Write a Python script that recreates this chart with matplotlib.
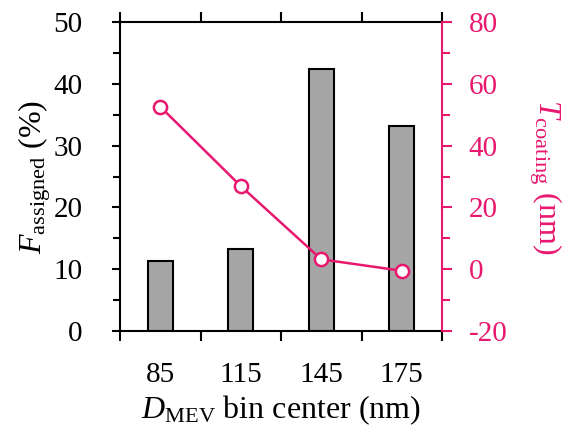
import numpy as np
import matplotlib
matplotlib.use("Agg")
import matplotlib.pyplot as plt
from matplotlib.ticker import MultipleLocator, FixedLocator

# Data
bin_centers = ["85", "115", "145", "175"]
f_assigned = [11.4, 13.3, 42.4, 33.1]      # %  (bars, left axis)
t_coating = [52.6, 26.9, 3.2, -0.5]        # nm (line, right axis)

PINK = "#E8186F"
BAR_GREY = "#A6A6A6"

plt.rcParams["font.family"] = ["Liberation Serif", "DejaVu Serif"]
plt.rcParams["mathtext.fontset"] = "custom"
plt.rcParams["mathtext.rm"] = "Liberation Serif"
plt.rcParams["mathtext.it"] = "Liberation Serif:italic"
plt.rcParams["axes.unicode_minus"] = False
plt.rcParams["font.size"] = 21
LABEL_SIZE = 23

fig = plt.figure(figsize=(5.63, 4.38), dpi=100)
ax = fig.add_axes([120 / 563, 1 - 331 / 438, 322 / 563, 309 / 438])
x = np.arange(len(bin_centers))

ax.bar(x, f_assigned, width=0.31, color=BAR_GREY, edgecolor="black", linewidth=1.5, zorder=2)
ax.set_xlim(-0.5, len(bin_centers) - 0.5)
ax.set_ylim(0, 50)

# ticks at bin boundaries, labels at centers
ax.xaxis.set_major_locator(FixedLocator(np.arange(-0.5, len(bin_centers), 1.0)))
ax.xaxis.set_minor_locator(FixedLocator(x))
ax.set_xticklabels([], minor=False)
ax.set_xticklabels(bin_centers, minor=True)
ax.tick_params(axis="x", which="major", direction="out", length=7, width=1.5, top=True)
ax.tick_params(axis="x", which="minor", length=0, pad=22)

ax.yaxis.set_major_locator(MultipleLocator(10))
ax.yaxis.set_minor_locator(MultipleLocator(5))
ax.tick_params(axis="y", which="major", direction="out", length=6, width=1.5, pad=21)
ax.tick_params(axis="y", which="minor", direction="out", length=5, width=1.5)

for s in ["left", "top", "bottom"]:
    ax.spines[s].set_linewidth(1.5)
ax.spines["right"].set_visible(False)

ax.set_ylabel(r"$\mathit{F}_{\mathrm{assigned}}$ (%)", va="center", fontsize=LABEL_SIZE)
ax.yaxis.set_label_coords(-0.264, 0.5)
ax.set_xlabel(r"$\mathit{D}_{\mathrm{MEV}}$ bin center (nm)", va="center", fontsize=LABEL_SIZE)
ax.xaxis.set_label_coords(0.5, -0.256)

ax2 = ax.twinx()
ax2.plot(x, t_coating, color=PINK, linewidth=1.8, marker="o", markersize=9.5,
         markerfacecolor="white", markeredgecolor=PINK, markeredgewidth=1.8, zorder=3)
ax2.set_ylim(-20, 80)
ax2.yaxis.set_major_locator(MultipleLocator(20))
ax2.yaxis.set_minor_locator(MultipleLocator(10))
ax2.tick_params(axis="y", which="major", direction="out", length=7, width=1.5,
                color=PINK, labelcolor=PINK, pad=12)
ax2.tick_params(axis="y", which="minor", direction="out", length=6, width=1.5, color=PINK)
for s in ["left", "top", "bottom"]:
    ax2.spines[s].set_visible(False)
ax2.spines["right"].set_color(PINK)
ax2.spines["right"].set_linewidth(1.5)

ax2.set_ylabel(r"$\mathit{T}_{\mathrm{coating}}$ (nm)", color=PINK, rotation=270,
               va="center", ha="center", rotation_mode="anchor", fontsize=LABEL_SIZE)
ax2.yaxis.set_label_coords(1.32, 0.5)

fig.savefig("out.png", dpi=100)
